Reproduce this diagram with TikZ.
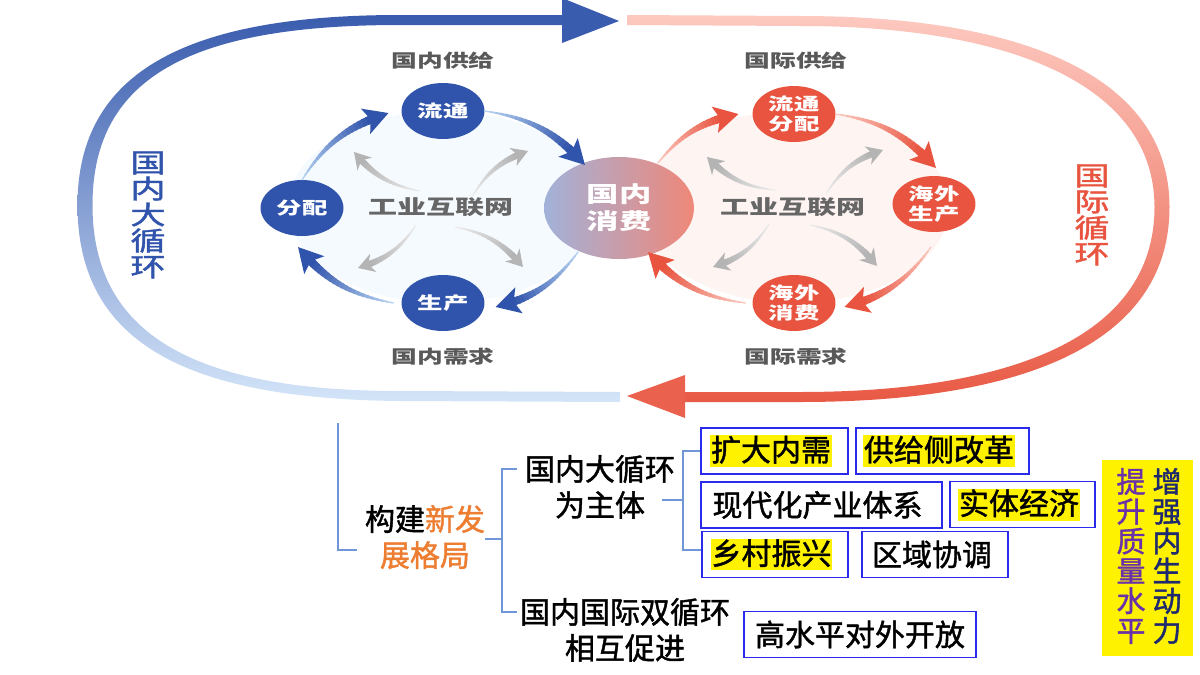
\documentclass[tikz,border=0pt]{standalone}
\usepackage{fontspec}
\usepackage{xcolor}
\usepackage{graphicx}
\setmainfont{Noto Sans CJK SC}
\newfontfamily\heavycjk[FakeBold=1.4]{Noto Sans CJK SC}
\usetikzlibrary{calc}
\usetikzlibrary{arrows.meta}
\definecolor{inblue}{HTML}{3053AB}
\definecolor{inpale}{HTML}{BCD8F5}
\definecolor{inback}{HTML}{F5FAFF}
\definecolor{loopbluetop}{HTML}{3A5CAE}
\definecolor{loopbluebot}{HTML}{D4E5F9}
\definecolor{exred}{HTML}{E8543F}
\definecolor{expale}{HTML}{FCCDC4}
\definecolor{exback}{HTML}{FEF4F2}
\definecolor{loopredtop}{HTML}{FDC9C0}
\definecolor{loopredbot}{HTML}{E85A45}
\definecolor{greydark}{HTML}{B4B4B4}
\definecolor{greypale}{HTML}{EDEDED}
\definecolor{treeblue}{HTML}{7096D8}
\definecolor{boxblue}{HTML}{2A2AEE}
\definecolor{orangetxt}{HTML}{ED7D31}
\definecolor{purpletxt}{HTML}{6A32A8}
\definecolor{navytxt}{HTML}{1F2A6E}
\newcommand{\yellowmark}[1]{{\setlength{\fboxsep}{.4pt}\colorbox{yellow}{\rule[-2.5pt]{0pt}{13.5pt}#1}}\hspace*{3.5pt}}
\newcommand{\flowarrow}[8]{%
\foreach \seg in {1,...,20}{%
 \pgfmathsetmacro{\posa}{.85*(\seg-1)/20}
 \pgfmathsetmacro{\posb}{.85*(\seg+.25)/20}
 \pgfmathsetmacro{\mixv}{100*\seg/20}
 \pgfmathsetmacro{\segw}{#6*(.12+.88*\seg/20)}
 \path #1 to[bend left=#3] coordinate[pos=\posa] (ga) coordinate[pos=\posb] (gb) #2;
 \draw[color=#5!\mixv!#4, line width=\segw pt] (ga)--(gb);
}
\path #1 to[bend left=#3] coordinate[pos=.85] (ga) #2;
\draw[color=#5, line width=#6 pt, -{Stealth[length=#7pt, width=#8pt, inset=2.5pt]}] (ga)--#2;
}
\tikzset{
 hubsmall/.style={circle, minimum size=28pt, inner sep=0, outer sep=0, xscale=1.48, transform shape, align=center, text=white, font=\fontsize{8.6}{10}\selectfont\bfseries},
 hubblue/.style={hubsmall, fill=inblue},
 hubred/.style={hubsmall, fill=exred},
 sidelabel/.style={xscale=1.43, transform shape, text=black!65, font=\fontsize{9}{10}\selectfont\bfseries},
 netlabel/.style={xscale=1.45, transform shape, text=black!60, font=\fontsize{10}{11}\selectfont\bfseries},
 looplabel/.style={xscale=1.35, transform shape, align=center, font=\fontsize{13}{13}\selectfont\heavycjk},
 treetext/.style={inner sep=4pt, font=\fontsize{15}{18}\selectfont\heavycjk},
 itembox/.style={draw=boxblue, line width=.6pt, inner sep=0, minimum height=#1, font=\fontsize{15}{18}\selectfont\heavycjk},
 itembox/.default=23pt,
 treeline/.style={draw=treeblue, line width=.6pt},
 sidecol/.style={align=center, inner sep=0, font=\fontsize{14.5}{14.9}\selectfont\heavycjk}
}
\begin{document}
\begin{tikzpicture}[x=.5pt, y=-.5pt]
\useasboundingbox (0,0) rectangle (1200,675);
\shade[top color=loopbluetop, bottom color=loopbluebot] (562,15)--(400,15) .. controls (190,15) and (77.5,70) .. (77.5,205) .. controls (77.5,345) and (190,399) .. (400,401)--(620,402)--(620,392)--(400,391) .. controls (195,391) and (92.5,335) .. (92.5,205) .. controls (92.5,75) and (195,25) .. (400,25)--(562,25)--cycle;
\fill[loopbluetop] (562,-2)--(619,21)--(562,43)--cycle;
\shade[top color=loopredtop, bottom color=loopredbot] (627,15)--(800,16) .. controls (1020,16) and (1169.5,75) .. (1169.5,207) .. controls (1169.5,350) and (1010,402) .. (800,402)--(685,402)--(685,392)--(800,392) .. controls (1005,392) and (1154.5,340) .. (1154.5,207) .. controls (1154.5,85) and (1010,26) .. (800,26)--(627,25)--cycle;
\fill[exred!92!white] (685,375)--(627,396)--(685,418)--cycle;

\fill[inback] (443,207) ellipse [x radius=155, y radius=96];
\fill[exback] (794,207) ellipse [x radius=155, y radius=96];

\node[hubblue] (liutong) at (443,111) {流通};
\node[hubblue] (fenpei) at (302,208) {分配};
\node[hubblue] (shengchan) at (443,303) {生产};
\node[hubred] (liutongfenpei) at (794,114) {流通\\分配};
\node[hubred] (haiwaisc) at (934,204) {海外\\生产};
\node[hubred] (haiwaixf) at (794,303) {海外\\消费};
\node[circle, minimum size=51pt, inner sep=0, outer sep=0, xscale=1.47, transform shape, left color=inblue!45!white, right color=exred!70!white, align=center, text=white, font=\fontsize{11}{13.5}\selectfont\bfseries] (xiaofei) at (619,208) {国内\\消费};

\foreach \sx/\sy/\ex/\ey in {420/191/354/152, 472/197/528/151, 416/225/358/268, 455/227/523/267, 775/190/707/157, 826/194/883/150, 769/224/713/267, 810/225/877/266}{
 \coordinate (greytail) at (\sx,\sy);
 \coordinate (greytip) at (\ex,\ey);
 \flowarrow{(greytail)}{(greytip)}{20}{greypale}{greydark}{3.2}{8}{9.5}
}

\flowarrow{(fenpei.north)}{($(liutong.west)+(-13,2)$)}{20}{inpale}{inblue}{4.2}{12}{13}
\flowarrow{(liutong.east)}{($(xiaofei.north)+(-34,8)$)}{20}{inpale}{inblue}{4.2}{12}{13}
\flowarrow{($(xiaofei.south)+(-41,-7)$)}{($(shengchan.east)+(11,4)$)}{20}{inpale}{inblue}{4.2}{12}{13}
\flowarrow{($(shengchan.west)+(-8,0)$)}{($(fenpei.south)+(-4,11)$)}{20}{inpale}{inblue}{4.2}{12}{13}
\flowarrow{($(xiaofei.north)+(39,6)$)}{($(liutongfenpei.west)+(-14,0)$)}{20}{expale}{exred}{4.2}{12}{13}
\flowarrow{(liutongfenpei.east)}{($(haiwaisc.north)+(2,-8)$)}{20}{expale}{exred}{4.2}{12}{13}
\flowarrow{($(haiwaisc.south)+(-3,15)$)}{($(haiwaixf.east)+(9,4)$)}{20}{expale}{exred}{4.2}{12}{13}
\flowarrow{($(haiwaixf.west)+(-7,0)$)}{($(xiaofei.south)+(29,-7)$)}{20}{expale}{exred}{4.2}{12}{13}

\node[sidelabel] (gnsupply) at (443,61) {国内供给};
\node[sidelabel] (gnneed) at (443,357) {国内需求};
\node[sidelabel] (gjsupply) at (796,61) {国际供给};
\node[sidelabel] (gjneed) at (796,357) {国际需求};
\node[netlabel] (netin) at (441,207) {工业互联网};
\node[netlabel] (netex) at (793,207) {工业互联网};
\node[looplabel, text=inblue] (bigloop) at (148,215) {国\\内\\大\\循\\环};
\node[looplabel, text=exred] (exloop) at (1092,215) {国\\际\\循\\环};

\node[treetext, align=center] (goujian) at (425,537) {构建\textcolor{orangetxt}{新发}\\\textcolor{orangetxt}{展格局}};
\node[treetext] (zhutia) at (600,469) {国内大循环};
\node[treetext] (zhutib) at (600,505) {为主体};
\node[treetext, inner sep=1.5pt] (shuanga) at (625,612) {国内国际双循环};
\node[treetext] (shuangb) at (625,648) {相互促进};

\node[itembox, minimum width=73.5pt] (kuoda) at (774.5,451) {\yellowmark{扩大内需}};
\node[itembox, minimum width=86.5pt] (gongji) at (942.5,451) {\yellowmark{供给侧改革}};
\node[itembox, minimum width=120.5pt] (xiandai) at (821.5,505) {现代化产业体系\hspace*{4pt}};
\node[itembox, minimum width=72.5pt] (shiti) at (1022.5,504.5) {\yellowmark{实体经济}};
\node[itembox, minimum width=73pt] (xiangcun) at (775,554.5) {\yellowmark{乡村振兴}};
\node[itembox, minimum width=73pt] (quyu) at (935,554.5) {区域协调\hspace*{3pt}};
\node[itembox, minimum width=116pt] (kaifang) at (860,634.5) {高水平对外开放};

\node[fill=yellow, minimum width=45.5pt, minimum height=98pt, inner sep=0] (sidebar) at (1147.5,558) {};
\node[sidecol, text=purpletxt] (tisheng) at (1131,556) {提\\升\\质\\量\\水\\平};
\node[sidecol, text=navytxt] (zengqiang) at (1167,556) {增\\强\\内\\生\\动\\力};

\coordinate (leftend) at (338,423);
\coordinate (trunk) at (502,539);
\coordinate (zhutistub) at (662,500);
\coordinate (bus) at (683,500);
\draw[treeline] (leftend) |- ($(goujian.west)+(0,13)$);
\draw[treeline] ($(goujian.east)+(-8,2)$)--(trunk);
\draw[treeline] (zhutia.west) -| (trunk) |- (shuanga.west);
\draw[treeline] (zhutistub)--(bus);
\draw[treeline] (kuoda.west) -| (bus) |- ($(xiangcun.west)+(0,-4.5)$);
\end{tikzpicture}
\end{document}
